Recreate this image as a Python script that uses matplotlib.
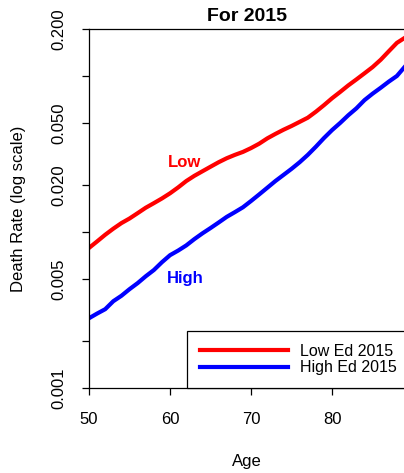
import matplotlib
matplotlib.use("Agg")
import matplotlib.pyplot as plt

plt.rcParams['font.family'] = ['Liberation Sans', 'DejaVu Sans']

# Ages 50..89
ages = list(range(50, 90))

# Death rates (log scale)
low_ed = [0.0079, 0.0087, 0.0096, 0.0105, 0.0114, 0.0122, 0.0132, 0.0143, 0.0153, 0.0164,
          0.0177, 0.0193, 0.0212, 0.0229, 0.0245, 0.0262, 0.0280, 0.0297, 0.0312, 0.0326,
          0.0345, 0.0368, 0.0398, 0.0425, 0.0452, 0.0478, 0.0508, 0.0540, 0.0590, 0.0650,
          0.0720, 0.0790, 0.0870, 0.0950, 0.1040, 0.1140, 0.1270, 0.1440, 0.1630, 0.1760]
high_ed = [0.0028, 0.0030, 0.0032, 0.0036, 0.0039, 0.0043, 0.0047, 0.0052, 0.0057, 0.0064,
           0.0071, 0.0076, 0.0082, 0.0090, 0.0098, 0.0106, 0.0115, 0.0125, 0.0134, 0.0144,
           0.0158, 0.0174, 0.0192, 0.0212, 0.0232, 0.0254, 0.0280, 0.0312, 0.0352, 0.0400,
           0.0450, 0.0500, 0.0560, 0.0620, 0.0700, 0.0770, 0.0840, 0.0920, 0.1000, 0.1150]

y_ticks = [0.001, 0.002, 0.005, 0.01, 0.02, 0.05, 0.1, 0.2]
y_labels = ['0.001', '', '0.005', '', '0.020', '0.050', '', '0.200']
x_ticks = [50, 60, 70, 80]

fig = plt.figure(figsize=(4.04, 4.73), dpi=100)
ax = fig.add_axes([89 / 404, 85 / 473, 316 / 404, 359 / 473])

ax.plot(ages, low_ed, color='#FF0000', linewidth=3, label='Low Ed 2015')
ax.plot(ages, high_ed, color='#0000FF', linewidth=3, label='High Ed 2015')

ax.set_yscale('log')
ax.set_xlim(50, 89)
ax.set_ylim(0.001, 0.2)
ax.set_yticks(y_ticks)
ax.set_yticklabels(y_labels)
ax.minorticks_off()
ax.set_xticks(x_ticks)

ax.tick_params(axis='both', direction='out', length=5, width=0.9, labelsize=12, colors='black')
ax.tick_params(axis='x', pad=12)
ax.tick_params(axis='y', pad=11, labelrotation=90)
for lbl in ax.get_yticklabels():
    lbl.set_va('center')

for side in ['left', 'bottom', 'top']:
    ax.spines[side].set_linewidth(0.9)
ax.spines['right'].set_visible(False)

ax.text(61.8, 0.0277, 'Low', color='#FF0000', fontsize=12, fontweight='bold', ha='center', va='center')
ax.text(61.9, 0.00507, 'High', color='#0000FF', fontsize=12, fontweight='bold', ha='center', va='center')

ax.set_title('For 2015', fontsize=14, fontweight='bold', pad=6)
ax.set_xlabel('Age', fontsize=12)
ax.set_ylabel('Death Rate (log scale)', fontsize=12)
ax.xaxis.set_label_coords(0.5, -0.184)
ax.yaxis.set_label_coords(-0.2, 0.5)

# legend box runs off the right edge, as in the original
leg = ax.legend(loc='lower left', bbox_to_anchor=(0.311, 0.0), borderaxespad=0,
                fontsize=11.5, handlelength=5.5, handletextpad=0.75, labelspacing=0.1,
                borderpad=0.8, fancybox=False, framealpha=1, edgecolor='black')
leg.get_frame().set_linewidth(0.9)

fig.savefig('out.png', dpi=100)
